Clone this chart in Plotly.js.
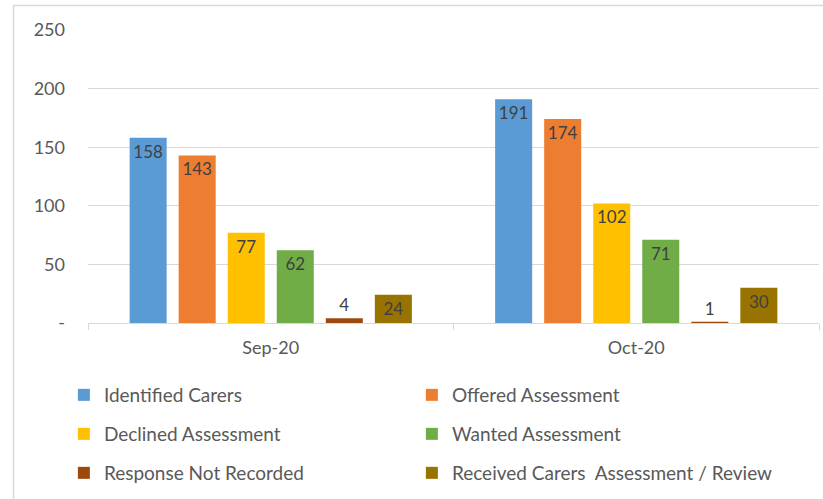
<!DOCTYPE html>
<html>
<head>
<meta charset="utf-8">
<script src="https://cdn.plot.ly/plotly-3.0.1.min.js"></script>
<style>html,body{margin:0;padding:0;background:#fff;}#chart{width:823px;height:499px;}</style>
</head>
<body>
<div id="chart"></div>
<script>
const categories = ["Sep-20", "Oct-20"];
const seriesNames = ["Identified Carers", "Offered Assessment", "Declined Assessment", "Wanted Assessment", "Response Not Recorded", "Received Carers  Assessment / Review"];
const identifiedCarers = [158, 191];
const offeredAssessment = [143, 174];
const declinedAssessment = [77, 102];
const wantedAssessment = [62, 71];
const responseNotRecorded = [4, 1];
const receivedAssessment = [24, 30];
const yTickVals = [0, 50, 100, 150, 200, 250];
const yTickText = ["-", "50", "100", "150", "200", "250"];

const seriesValues = [identifiedCarers, offeredAssessment, declinedAssessment, wantedAssessment, responseNotRecorded, receivedAssessment];
const colors = ["#5B9BD5", "#ED7D31", "#FFC000", "#70AD47", "#9E480E", "#997300"];
const legendIds = ["legend", "legend", "legend2", "legend2", "legend3", "legend4"];
const FONT = "Lato, 'Open Sans', sans-serif";

const traces = seriesValues.map((vals, i) => ({
  type: "bar",
  name: seriesNames[i].replace(/  /g, "&nbsp; "),
  x: categories,
  y: vals,
  text: vals.map(String),
  textposition: vals.map(v => v < 15 ? "outside" : "inside"),
  insidetextanchor: "end",
  textangle: 0,
  constraintext: "none",
  cliponaxis: false,
  textfont: {family: FONT, size: 17, color: "#404040"},
  marker: {color: colors[i], line: {width: 0}},
  legend: legendIds[i],
  hoverinfo: "x+y+name"
}));

const legendBase = {
  orientation: "h",
  xanchor: "left",
  yanchor: "middle",
  x: -0.033,
  entrywidth: 303,
  entrywidthmode: "pixels",
  font: {family: FONT, size: 19, color: "#595959"},
  bgcolor: "rgba(0,0,0,0)",
  itemclick: false,
  traceorder: "normal"
};

const layout = {
  width: 823,
  height: 499,
  margin: {l: 88, r: 4, t: 30, b: 176},
  paper_bgcolor: "#ffffff",
  plot_bgcolor: "#ffffff",
  font: {family: FONT, color: "#595959", size: 18},
  barmode: "group",
  bargap: 0.195,
  bargroupgap: 0.245,
  showlegend: true,
  legend: Object.assign({}, legendBase, {y: (323 - 395) / 293}),
  legend2: Object.assign({}, legendBase, {y: (323 - 434) / 293}),
  legend3: Object.assign({}, legendBase, {y: (323 - 473) / 293}),
  legend4: Object.assign({}, legendBase, {y: (323 - 473) / 293, x: -0.033 + 348 / 731, entrywidth: 0}),
  xaxis: {
    type: "category",
    showgrid: false,
    showline: true,
    linecolor: "#d9d9d9",
    linewidth: 1,
    ticks: "outside",
    tickson: "boundaries",
    ticklen: 6,
    tickcolor: "#d9d9d9",
    ticklabelstandoff: 8,
    tickfont: {family: FONT, size: 18, color: "#595959"},
    zeroline: false,
    fixedrange: true
  },
  yaxis: {
    range: [0, 250],
    tickvals: yTickVals,
    ticktext: yTickText,
    showgrid: true,
    gridcolor: "#d9d9d9",
    gridwidth: 1,
    zeroline: false,
    showline: false,
    ticks: "",
    ticklabelstandoff: 22,
    tickfont: {family: FONT, size: 18, color: "#595959"},
    fixedrange: true
  },
  shapes: [
    {type: "line", xref: "paper", yref: "paper", x0: (13 - 88) / 731, x1: (823 - 88) / 731, y0: (323 - 5.5) / 293, y1: (323 - 5.5) / 293, line: {color: "#d9d9d9", width: 1.5}},
    {type: "line", xref: "paper", yref: "paper", x0: (13.5 - 88) / 731, x1: (13.5 - 88) / 731, y0: (323 - 5.5) / 293, y1: (323 - 499) / 293, line: {color: "#d9d9d9", width: 1.5}}
  ]
};

Plotly.newPlot("chart", traces, layout, {displayModeBar: false, staticPlot: true});
</script>
</body>
</html>
